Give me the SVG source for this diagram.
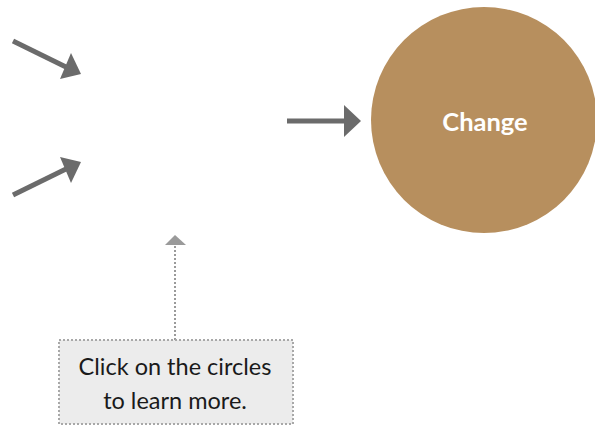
<svg xmlns="http://www.w3.org/2000/svg" width="595" height="425" viewBox="0 0 595 425">
<style>
.arr{stroke:#6b6b6b;stroke-width:5;fill:none}
.head{fill:#6b6b6b}
.dot{stroke:#9a9a9a;stroke-width:2;stroke-dasharray:2 2;fill:none}
.lbl{font-family:Lato,"Liberation Sans",sans-serif}
</style>
<rect width="595" height="425" fill="#ffffff"/>
<g id="connectors">
<line class="arr" x1="13" y1="41" x2="68" y2="68"/>
<polygon class="head" points="81,74 71,53 60,79"/>
<line class="arr" x1="13" y1="195" x2="68" y2="168"/>
<polygon class="head" points="81,162 60,157 71,183"/>
<line class="arr" x1="287" y1="121" x2="348" y2="121"/>
<polygon class="head" points="361,121 344,105 344,137"/>
<line class="dot" x1="175" y1="340" x2="175" y2="245"/>
<polygon points="175,235 165,245 186,245" fill="#9a9a9a"/>
</g>
<g id="change">
<circle cx="484" cy="120" r="113" fill="#b78f5e"/>
<text class="lbl" x="485" y="131" text-anchor="middle" font-size="25.5" font-weight="bold" fill="#ffffff">Change</text>
</g>
<g id="note">
<rect x="59" y="340" width="234" height="84" fill="#ececec" stroke="#a8a8a8" stroke-width="2" stroke-dasharray="2 2"/>
<text class="lbl" x="175" y="375" text-anchor="middle" font-size="23.5" fill="#1a1a1a">Click on the circles</text>
<text class="lbl" x="175" y="409" text-anchor="middle" font-size="23.5" fill="#1a1a1a">to learn more.</text>
</g>
</svg>
